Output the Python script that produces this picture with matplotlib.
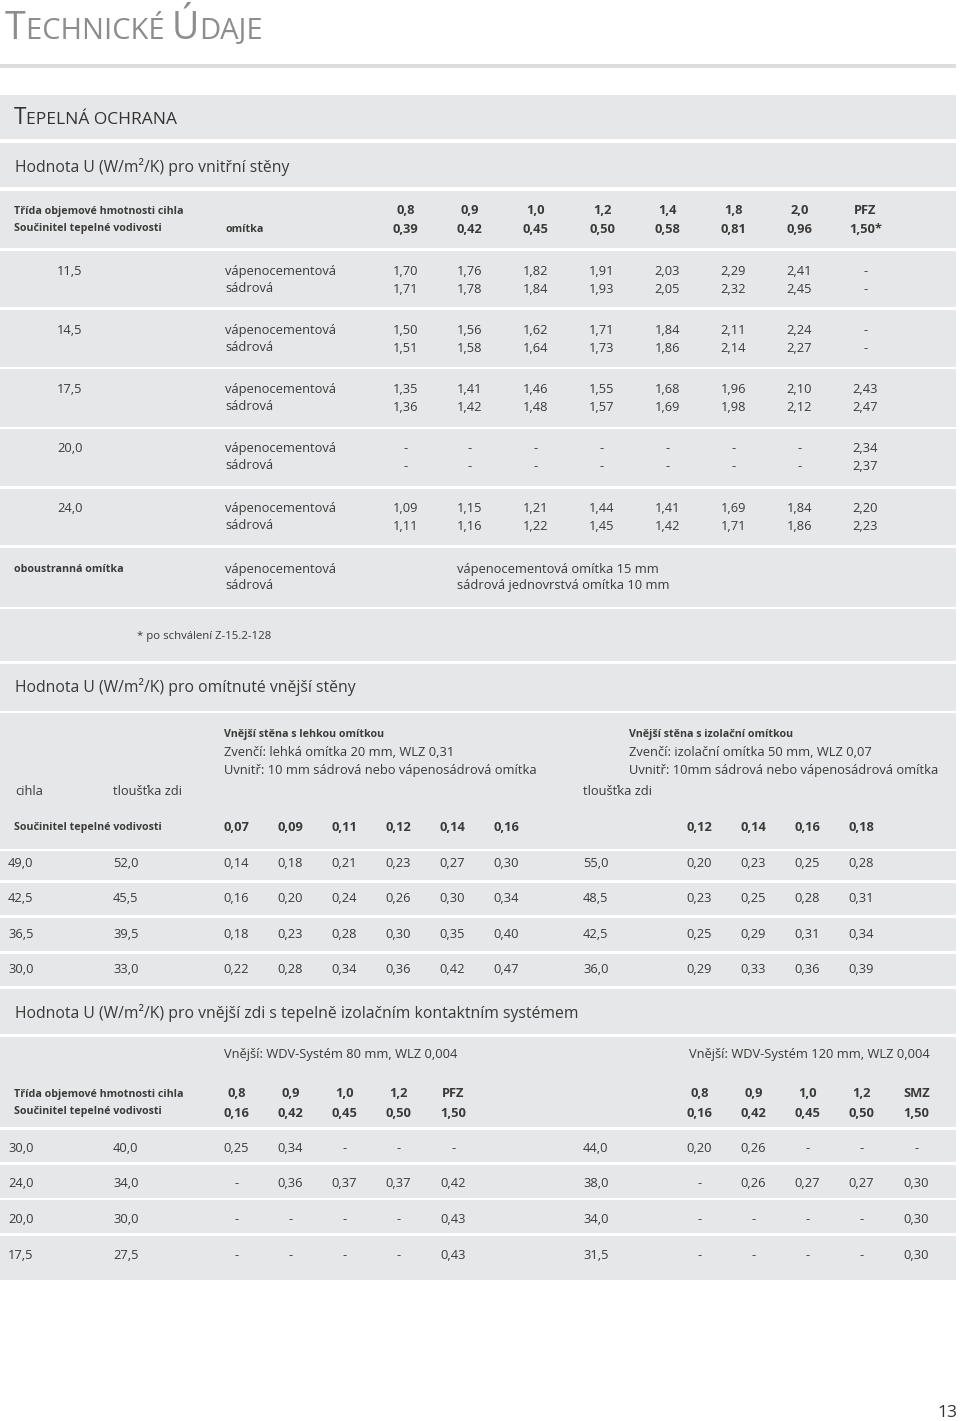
import matplotlib
matplotlib.use('Agg')
import matplotlib.pyplot as plt
from matplotlib.patches import Rectangle

# ---------------- data ----------------
t1_density = ['0,8', '0,9', '1,0', '1,2', '1,4', '1,8', '2,0', 'PFZ']
t1_lambda = ['0,39', '0,42', '0,45', '0,50', '0,58', '0,81', '0,96', '1,50*']
t1_thickness = ['11,5', '14,5', '17,5', '20,0', '24,0']
t1_vapenocem = [
    ['1,70', '1,76', '1,82', '1,91', '2,03', '2,29', '2,41', '-'],
    ['1,50', '1,56', '1,62', '1,71', '1,84', '2,11', '2,24', '-'],
    ['1,35', '1,41', '1,46', '1,55', '1,68', '1,96', '2,10', '2,43'],
    ['-', '-', '-', '-', '-', '-', '-', '2,34'],
    ['1,09', '1,15', '1,21', '1,44', '1,41', '1,69', '1,84', '2,20'],
]
t1_sadrova = [
    ['1,71', '1,78', '1,84', '1,93', '2,05', '2,32', '2,45', '-'],
    ['1,51', '1,58', '1,64', '1,73', '1,86', '2,14', '2,27', '-'],
    ['1,36', '1,42', '1,48', '1,57', '1,69', '1,98', '2,12', '2,47'],
    ['-', '-', '-', '-', '-', '-', '-', '2,37'],
    ['1,11', '1,16', '1,22', '1,45', '1,42', '1,71', '1,86', '2,23'],
]

t2_lambda_left = ['0,07', '0,09', '0,11', '0,12', '0,14', '0,16']
t2_lambda_right = ['0,12', '0,14', '0,16', '0,18']
t2_cihla = ['49,0', '42,5', '36,5', '30,0']
t2_zed_left = ['52,0', '45,5', '39,5', '33,0']
t2_left = [
    ['0,14', '0,18', '0,21', '0,23', '0,27', '0,30'],
    ['0,16', '0,20', '0,24', '0,26', '0,30', '0,34'],
    ['0,18', '0,23', '0,28', '0,30', '0,35', '0,40'],
    ['0,22', '0,28', '0,34', '0,36', '0,42', '0,47'],
]
t2_zed_right = ['55,0', '48,5', '42,5', '36,0']
t2_right = [
    ['0,20', '0,23', '0,25', '0,28'],
    ['0,23', '0,25', '0,28', '0,31'],
    ['0,25', '0,29', '0,31', '0,34'],
    ['0,29', '0,33', '0,36', '0,39'],
]

t3_density_left = ['0,8', '0,9', '1,0', '1,2', 'PFZ']
t3_lambda_left = ['0,16', '0,42', '0,45', '0,50', '1,50']
t3_density_right = ['0,8', '0,9', '1,0', '1,2', 'SMZ']
t3_lambda_right = ['0,16', '0,42', '0,45', '0,50', '1,50']
t3_cihla = ['30,0', '24,0', '20,0', '17,5']
t3_zed_left = ['40,0', '34,0', '30,0', '27,5']
t3_left = [
    ['0,25', '0,34', '-', '-', '-'],
    ['-', '0,36', '0,37', '0,37', '0,42'],
    ['-', '-', '-', '-', '0,43'],
    ['-', '-', '-', '-', '0,43'],
]
t3_zed_right = ['44,0', '38,0', '34,0', '31,5']
t3_right = [
    ['0,20', '0,26', '-', '-', '-'],
    ['-', '0,26', '0,27', '0,27', '0,30'],
    ['-', '-', '-', '-', '0,30'],
    ['-', '-', '-', '-', '0,30'],
]

# ---------------- figure ----------------
W, H = 960, 1421
fig = plt.figure(figsize=(9.6, 14.21), dpi=100)
fig.patch.set_facecolor('white')
ax = fig.add_axes([0, 0, 1, 1])
ax.set_xlim(0, W)
ax.set_ylim(H, 0)
ax.axis('off')

PANEL = '#e6e7e8'
TXT = '#3a3a3a'
TITLE = '#8d8d8d'
FONT = 'Open Sans'
renderer = fig.canvas.get_renderer()


def width_of(s, size, weight='normal'):
    t = ax.text(0, 0, s, fontsize=size, fontweight=weight, family=FONT)
    w = t.get_window_extent(renderer).width
    t.remove()
    return w


def fit(s, target, weight='normal'):
    return 10.0 * target / width_of(s, 10.0, weight)


BODY = fit('sádrová jednovrstvá omítka 10 mm', 204) * 1.04
BOLD = fit('Třída objemové hmotnosti cihla', 168, 'bold')
BOLDNUM = fit('0,45', 25, 'bold') * 1.04
BOLDSUB = fit('Vnější stěna s lehkou omítkou', 160, 'bold')
HEAD = fit('Hodnota U (W/m²/K) pro vnější zdi s tepelně izolačním kontaktním systémem', 560)
FOOT = fit('* po schválení Z-15.2-128', 134)


def T(x, yc, s, size=None, weight='normal', ha='left', color=TXT):
    size = BODY if size is None else size
    base = yc + 0.357 * size * 100 / 72.0
    ax.text(x, base, s, fontsize=size, fontweight=weight, ha=ha, va='baseline',
            color=color, family=FONT)


def smallcaps(x, base, pieces, big, small, color, target):
    def total(scale):
        tw = 0
        for s, isbig in pieces:
            tw += width_of(s, (big if isbig else small) * scale)
        return tw
    sc = target / total(1.0)
    cx = x
    for s, isbig in pieces:
        fs = (big if isbig else small) * sc
        t = ax.text(cx, base, s, fontsize=fs, ha='left', va='baseline', color=color, family=FONT)
        cx += t.get_window_extent(renderer).width


def panel(y0, y1, x0=0, x1=956):
    ax.add_patch(Rectangle((x0, y0), x1 - x0, y1 - y0, facecolor=PANEL, edgecolor='none', zorder=0))


# ---------------- page title ----------------
smallcaps(5, 39, [('T', True), ('ECHNICKÉ ', False), ('Ú', True), ('DAJE', False)],
          27, 21, TITLE, 258)
ax.add_patch(Rectangle((0, 64), 956, 4, facecolor='#dcdddf', edgecolor='none', zorder=0))

# ---------------- panels ----------------
for y0, y1 in [(95, 139), (143, 187), (191, 248), (251, 307), (310, 367), (369, 427),
               (429, 486), (489, 545), (548, 607), (609, 661), (664, 711), (713, 849),
               (851, 880), (883, 915), (918, 951), (954, 986), (989, 1034), (1037, 1127),
               (1130, 1162), (1165, 1198), (1200, 1233), (1236, 1280)]:
    panel(y0, y1)

smallcaps(14, 124, [('T', True), ('EPELNÁ OCHRANA', False)], 16, 12.3, '#333333', 163)

# ---------------- table 1 ----------------
T(15, 172 - 0.357 * HEAD * 100 / 72, 'Hodnota U (W/m²/K) pro vnitřní stěny', size=HEAD)

c1 = [405.5, 469.5, 535.5, 602, 667.5, 733.5, 799.5, 865.5]
T(14, 210, 'Třída objemové hmotnosti cihla', size=BOLD, weight='bold')
T(14, 227, 'Součinitel tepelné vodivosti', size=BOLD, weight='bold')
T(225, 228, 'omítka', size=BOLD, weight='bold')
for x, a, b in zip(c1, t1_density, t1_lambda):
    T(x, 209, a, size=BOLDNUM, weight='bold', ha='center')
    T(x, 228, b, size=BOLDNUM, weight='bold', ha='center')

row_y1 = [270, 329, 388, 447, 507]
for y, th, vc, sd in zip(row_y1, t1_thickness, t1_vapenocem, t1_sadrova):
    T(70, y, th, ha='center')
    T(225, y, 'vápenocementová')
    T(225, y + 17, 'sádrová')
    for x, a, b in zip(c1, vc, sd):
        T(x, y, a, ha='center')
        T(x, y + 18, b, ha='center')

T(14, 568, 'oboustranná omítka', size=BOLD, weight='bold')
T(225, 568, 'vápenocementová')
T(225, 584, 'sádrová')
T(457, 568, 'vápenocementová omítka 15 mm')
T(457, 584, 'sádrová jednovrstvá omítka 10 mm')

T(137, 635, '* po schválení Z-15.2-128', size=FOOT)

# ---------------- table 2 ----------------
T(15, 692 - 0.357 * HEAD * 100 / 72, 'Hodnota U (W/m²/K) pro omítnuté vnější stěny', size=HEAD)

T(224, 733, 'Vnější stěna s lehkou omítkou', size=BOLDSUB, weight='bold')
T(224, 751, 'Zvenčí: lehká omítka 20 mm, WLZ 0,31')
T(224, 769, 'Uvnitř: 10 mm sádrová nebo vápenosádrová omítka')
T(629, 733, 'Vnější stěna s izolační omítkou', size=BOLDSUB, weight='bold')
T(629, 751, 'Zvenčí: izolační omítka 50 mm, WLZ 0,07')
T(629, 769, 'Uvnitř: 10mm sádrová nebo vápenosádrová omítka')
T(15, 790, 'cihla')
T(113, 790, 'tloušťka zdi')
T(583, 790, 'tloušťka zdi')

c2l = [236.5, 290.5, 344.5, 398.5, 452.5, 506.5]
c2r = [699.5, 753.5, 807.5, 861.5]
T(14, 826, 'Součinitel tepelné vodivosti', size=BOLD, weight='bold')
for x, s in zip(c2l, t2_lambda_left):
    T(x, 826, s, size=BOLDNUM, weight='bold', ha='center')
for x, s in zip(c2r, t2_lambda_right):
    T(x, 826, s, size=BOLDNUM, weight='bold', ha='center')

row_y2 = [862, 897, 933, 968]
for y, a, b, vals, zr, rv in zip(row_y2, t2_cihla, t2_zed_left, t2_left, t2_zed_right, t2_right):
    T(8, y, a)
    T(113, y, b)
    for x, s in zip(c2l, vals):
        T(x, y, s, ha='center')
    T(583, y, zr)
    for x, s in zip(c2r, rv):
        T(x, y, s, ha='center')

# ---------------- table 3 ----------------
T(15, 1018 - 0.357 * HEAD * 100 / 72,
  'Hodnota U (W/m²/K) pro vnější zdi s tepelně izolačním kontaktním systémem', size=HEAD)

T(224, 1053, 'Vnější: WDV-Systém 80 mm, WLZ 0,004')
T(689, 1053, 'Vnější: WDV-Systém 120 mm, WLZ 0,004')
T(14, 1093, 'Třída objemové hmotnosti cihla', size=BOLD, weight='bold')
T(14, 1110, 'Součinitel tepelné vodivosti', size=BOLD, weight='bold')

c3l = [236.5, 290.5, 344.5, 398.5, 453.5]
c3r = [699.5, 753.5, 807.5, 861.5, 916.5]
for x, a, b in zip(c3l, t3_density_left, t3_lambda_left):
    T(x, 1092, a, size=BOLDNUM, weight='bold', ha='center')
    T(x, 1112, b, size=BOLDNUM, weight='bold', ha='center')
for x, a, b in zip(c3r, t3_density_right, t3_lambda_right):
    T(x, 1092, a, size=BOLDNUM, weight='bold', ha='center')
    T(x, 1112, b, size=BOLDNUM, weight='bold', ha='center')

row_y3 = [1147, 1182, 1218, 1254]
for y, a, b, vals, zr, rv in zip(row_y3, t3_cihla, t3_zed_left, t3_left, t3_zed_right, t3_right):
    T(8, y, a)
    T(113, y, b)
    for x, s in zip(c3l, vals):
        T(x, y, s, ha='center')
    T(583, y, zr)
    for x, s in zip(c3r, rv):
        T(x, y, s, ha='center')

# page number
T(957, 1411, '13', size=12.5, ha='right', color='#333333')

fig.savefig('out.png', dpi=100, facecolor='white')
